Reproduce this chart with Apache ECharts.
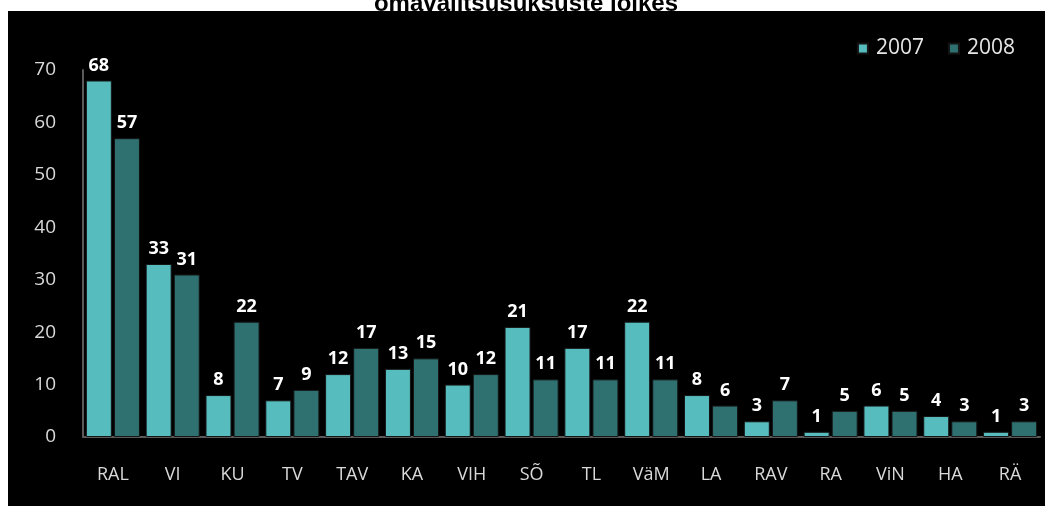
<!DOCTYPE html>
<html>
<head>
<meta charset="utf-8">
<script src="https://cdn.jsdelivr.net/npm/echarts@6/dist/echarts.min.js"></script>
<style>
    html, body {
        margin: 0;
        padding: 0;
        background: #fff;
    }
    #chart {
        width: 1052px;
        height: 506px;
    }
</style>
</head>
<body>
<div id="chart"></div>
<script>
    var categories = ['RAL', 'VI', 'KU', 'TV', 'TAV', 'KA', 'VIH', 'SÕ', 'TL', 'VäM', 'LA', 'RAV', 'RA', 'ViN', 'HA', 'RÄ'];
    var values2007 = [68, 33, 8, 7, 12, 13, 10, 21, 17, 22, 8, 3, 1, 6, 4, 1];
    var values2008 = [57, 31, 22, 9, 17, 15, 12, 11, 11, 11, 6, 7, 5, 5, 3, 3];

    var labelStyle = {
        show: true,
        position: 'top',
        distance: 6,
        color: '#ffffff',
        fontSize: 18,
        fontWeight: 'bold',
        fontFamily: 'Open Sans'
    };

    var Chart = echarts.init(document.getElementById('chart'));
    Chart.setOption({
        backgroundColor: '#ffffff',
        animation: false,
        title: {
            text: 'omavalitsusüksuste lõikes',
            left: 'center',
            top: -13,
            textStyle: {
                color: '#000',
                fontSize: 24,
                fontWeight: 'bold',
                fontFamily: 'Liberation Sans'
            }
        },
        graphic: [{
            type: 'rect',
            z: -10,
            shape: { x: 8, y: 11, width: 1037, height: 495 },
            style: { fill: '#000000' }
        }],
        legend: {
            right: 32,
            top: 33,
            itemWidth: 10,
            itemHeight: 10,
            itemGap: 24,
            icon: 'rect',
            textStyle: {
                color: '#e6e6e6',
                fontSize: 21,
                padding: [0, 0, 0, 3],
                fontFamily: 'Open Sans'
            },
            data: ['2007', '2008']
        },
        grid: {
            left: 83,
            right: 12,
            top: 70,
            bottom: 69
        },
        xAxis: {
            type: 'category',
            data: categories,
            axisLine: { lineStyle: { color: '#5a5a5a', width: 2 } },
            axisTick: { show: false },
            axisLabel: {
                color: '#d9d9d9',
                fontSize: 18,
                margin: 29,
                fontFamily: 'Open Sans'
            }
        },
        yAxis: {
            type: 'value',
            min: 0,
            max: 70,
            interval: 10,
            axisLine: { show: true, lineStyle: { color: '#5a5a5a', width: 2 } },
            axisTick: { show: false },
            splitLine: { show: false },
            axisLabel: {
                color: '#d9d9d9',
                fontSize: 19,
                margin: 27,
                fontFamily: 'Open Sans'
            }
        },
        series: [{
            name: '2007',
            type: 'bar',
            data: values2007,
            barWidth: 26,
            barGap: '8%',
            itemStyle: { color: '#57bcbd', borderColor: '#151515', borderWidth: 1 },
            label: labelStyle
        }, {
            name: '2008',
            type: 'bar',
            data: values2008,
            barWidth: 26,
            itemStyle: { color: '#2f7070', borderColor: '#151515', borderWidth: 1 },
            label: labelStyle
        }]
    });
</script>
</body>
</html>
